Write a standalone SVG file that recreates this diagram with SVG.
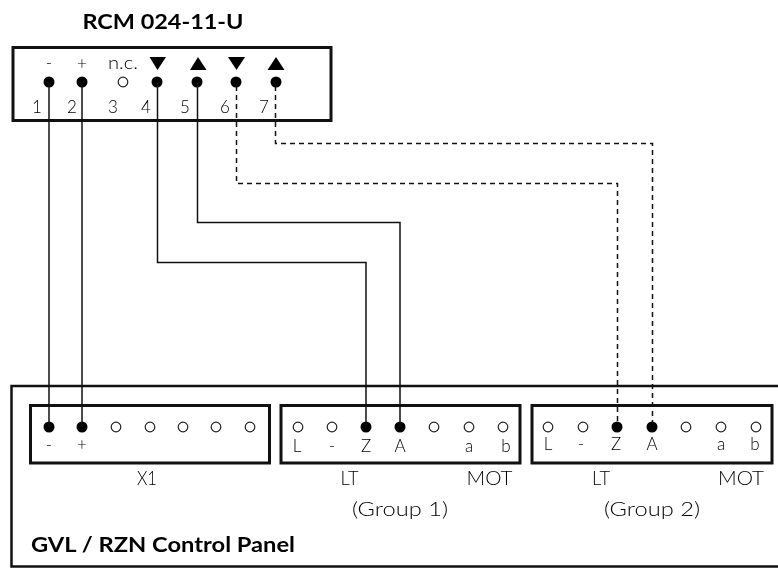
<svg xmlns="http://www.w3.org/2000/svg" width="778" height="568" viewBox="0 0 778 568">
<style>
text{font-family:"Lato","Liberation Sans",sans-serif;font-weight:300;fill:#000;font-size:19px;text-anchor:middle;filter:url(#gray)}
.s{font-size:17px}
.b{font-weight:700;font-size:20px}
.box{fill:#fff;stroke:#111;stroke-width:3}
.on{fill:#000}
.off{fill:#fff;stroke:#222;stroke-width:1.2}
.w{fill:none;stroke:#111;stroke-width:1.5}
.d{stroke-dasharray:5 4}
</style>
<defs><filter id="gray" x="-20%" y="-20%" width="140%" height="140%" color-interpolation-filters="sRGB"><feOffset dx="0" dy="0"/></filter></defs>
<rect width="778" height="568" fill="#fff"/>
<g id="rcm">
<rect class="box" x="13" y="47.500" width="318" height="73"/>
<text class="b" x="163" y="29" textLength="161" lengthAdjust="spacingAndGlyphs">RCM 024-11-U</text>
<text class="s" x="49" y="69">-</text><text class="s" x="82" y="69">+</text><text class="s" x="123" y="69" textLength="30" lengthAdjust="spacingAndGlyphs">n.c.</text>
<polygon class="on" points="149.500,57 166,57 157.500,70"/>
<polygon class="on" points="190,70 206.500,70 198,57"/>
<polygon class="on" points="228,57 245,57 236.500,70"/>
<polygon class="on" points="267.500,70 284.500,70 276,57"/>
<circle class="on" cx="49" cy="82" r="5.500"/><circle class="on" cx="82" cy="82" r="5.500"/>
<circle class="off" cx="123" cy="82" r="4.800"/>
<circle class="on" cx="157" cy="82" r="5.500"/><circle class="on" cx="197" cy="82" r="5.500"/><circle class="on" cx="236" cy="82" r="5.500"/><circle class="on" cx="276" cy="82" r="5.500"/>
<text class="s" x="37" y="113">1</text><text class="s" x="72" y="113">2</text><text class="s" x="113" y="113">3</text><text class="s" x="146" y="113">4</text><text class="s" x="185" y="113">5</text><text class="s" x="225" y="113">6</text><text class="s" x="264" y="113">7</text>
</g>
<g id="panel">
<path d="M778 386H11.500V566.500H778" fill="#fff" stroke="#111" stroke-width="2.500"/>
<text class="b" x="163" y="552" textLength="264" lengthAdjust="spacingAndGlyphs">GVL / RZN Control Panel</text>
</g>
<g id="x1">
<rect class="box" x="30.500" y="405.500" width="239" height="57.500"/>
<circle class="on" cx="49" cy="427" r="5.500"/><circle class="on" cx="82" cy="427" r="5.500"/>
<circle class="off" cx="116" cy="427" r="4.800"/><circle class="off" cx="150" cy="427" r="4.800"/><circle class="off" cx="183" cy="427" r="4.800"/><circle class="off" cx="216" cy="427" r="4.800"/><circle class="off" cx="250" cy="427" r="4.800"/>
<text class="s" x="49" y="451">-</text><text class="s" x="82" y="450">+</text>
<text x="147" y="485" textLength="20" lengthAdjust="spacingAndGlyphs">X1</text>
</g>
<g id="group1">
<rect class="box" x="281" y="405.500" width="239" height="57.500"/>
<circle class="off" cx="298" cy="427" r="4.800"/><circle class="off" cx="332" cy="427" r="4.800"/>
<circle class="on" cx="366" cy="427" r="5.500"/><circle class="on" cx="400" cy="427" r="5.500"/>
<circle class="off" cx="434" cy="427" r="4.800"/><circle class="off" cx="469" cy="427" r="4.800"/><circle class="off" cx="503" cy="427" r="4.800"/>
<text class="s" x="297" y="452">L</text><text class="s" x="332" y="452">-</text><text class="s" x="366" y="452">Z</text><text class="s" x="400" y="452">A</text><text class="s" x="469" y="452">a</text><text class="s" x="506" y="452">b</text>
<text x="349.500" y="485" textLength="18" lengthAdjust="spacingAndGlyphs">LT</text><text x="489.500" y="485" textLength="46" lengthAdjust="spacingAndGlyphs">MOT</text>
<text x="400" y="516" textLength="96" lengthAdjust="spacingAndGlyphs">(Group 1)</text>
</g>
<g id="group2">
<rect class="box" x="532" y="405.500" width="240" height="57.500"/>
<circle class="off" cx="548" cy="427" r="4.800"/><circle class="off" cx="583" cy="427" r="4.800"/>
<circle class="on" cx="617" cy="427" r="5.500"/><circle class="on" cx="652" cy="427" r="5.500"/>
<circle class="off" cx="686" cy="427" r="4.800"/><circle class="off" cx="721" cy="427" r="4.800"/><circle class="off" cx="756" cy="427" r="4.800"/>
<text class="s" x="548" y="450">L</text><text class="s" x="581" y="450">-</text><text class="s" x="616" y="450">Z</text><text class="s" x="652" y="450">A</text><text class="s" x="721" y="450">a</text><text class="s" x="755" y="450">b</text>
<text x="601" y="485" textLength="18" lengthAdjust="spacingAndGlyphs">LT</text><text x="741" y="485" textLength="46" lengthAdjust="spacingAndGlyphs">MOT</text>
<text x="652" y="516" textLength="96" lengthAdjust="spacingAndGlyphs">(Group 2)</text>
</g>
<g id="connectors">
<path class="w" d="M49 82V427"/>
<path class="w" d="M82 82V427"/>
<path class="w" d="M157.500 82V262.500H366V427"/>
<path class="w" d="M197.500 82V222.500H400V427"/>
<path class="w d" d="M236.500 86V183.500H617.500V424"/>
<path class="w d" d="M275.500 86V143.500H652.500V424"/>
</g>
</svg>
